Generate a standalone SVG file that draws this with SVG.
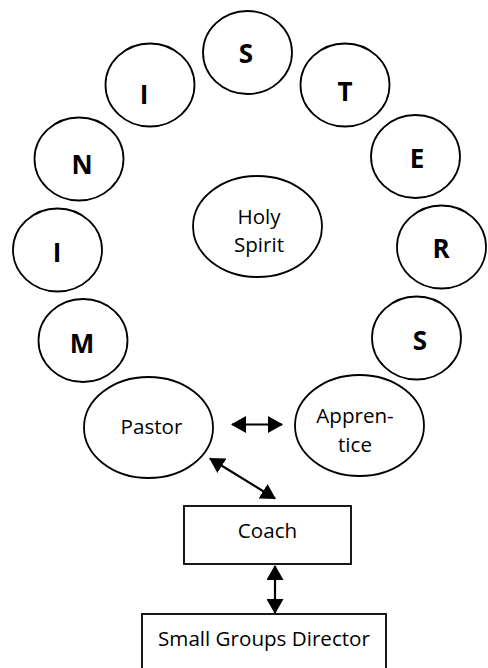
<svg xmlns="http://www.w3.org/2000/svg" width="488" height="668" viewBox="0 0 488 668">
<style>
.n{fill:#fff;stroke:#000;stroke-width:1.8}
.b{font-family:"Open Sans","Liberation Sans",sans-serif;font-weight:bold;font-size:26px;text-anchor:middle;fill:#000}
.t{font-family:"Open Sans","Liberation Sans",sans-serif;font-size:20.6px;text-anchor:middle;fill:#000}
.c{fill:none;stroke:#000;stroke-width:2.2;marker-start:url(#ah);marker-end:url(#ah)}
</style>
<defs>
<marker id="ah" markerUnits="userSpaceOnUse" markerWidth="15" markerHeight="17" refX="14" refY="8.5" orient="auto-start-reverse" viewBox="0 0 15 17">
<path d="M0,0 L15,8.5 L0,17 z" fill="#000"/>
</marker>
</defs>
<rect width="488" height="668" fill="#fff"/>
<g id="node-S1"><ellipse class="n" cx="247.5" cy="52.5" rx="44.5" ry="41.5"/><text class="b" x="246" y="63">S</text></g>
<g id="node-I1"><ellipse class="n" cx="150" cy="85" rx="44.5" ry="41.5"/><text class="b" x="144" y="104">I</text></g>
<g id="node-T"><ellipse class="n" cx="345" cy="85" rx="44.5" ry="41.5"/><text class="b" x="345" y="101">T</text></g>
<g id="node-N"><ellipse class="n" cx="79" cy="159" rx="44.5" ry="41.5"/><text class="b" x="82" y="174">N</text></g>
<g id="node-E"><ellipse class="n" cx="415.5" cy="156.5" rx="44.5" ry="41.5"/><text class="b" x="417" y="168">E</text></g>
<g id="node-I2"><ellipse class="n" cx="57.5" cy="250" rx="44.5" ry="41.5"/><text class="b" x="57" y="262">I</text></g>
<g id="node-R"><ellipse class="n" cx="441.5" cy="247" rx="44.5" ry="41.5"/><text class="b" x="441" y="258">R</text></g>
<g id="node-M"><ellipse class="n" cx="83" cy="340.5" rx="44.5" ry="41.5"/><text class="b" x="82" y="353">M</text></g>
<g id="node-S2"><ellipse class="n" cx="416.5" cy="338" rx="44.5" ry="41.5"/><text class="b" x="420" y="350">S</text></g>
<g id="node-holy-spirit"><ellipse class="n" cx="257.5" cy="226.5" rx="64.5" ry="50.5"/><text class="t" x="259" y="224">Holy</text><text class="t" x="259" y="252">Spirit</text></g>
<g id="node-pastor"><ellipse class="n" cx="148.5" cy="427.5" rx="64.5" ry="50.5"/><text class="t" x="151.5" y="434">Pastor</text></g>
<g id="node-apprentice"><ellipse class="n" cx="359.5" cy="425.5" rx="64.5" ry="50.5"/><text class="t" x="355" y="423">Appren-</text><text class="t" x="355" y="452">tice</text></g>
<g id="node-coach"><rect class="n" x="184" y="506" width="167" height="58"/><text class="t" x="267.5" y="538">Coach</text></g>
<g id="node-director"><rect class="n" x="142" y="614" width="244" height="70"/><text class="t" x="264" y="646">Small Groups Director</text></g>
<g id="connectors">
<line class="c" x1="232" y1="424.5" x2="282" y2="424.5"/>
<line class="c" x1="210" y1="458.5" x2="275" y2="498.5"/>
<line class="c" x1="275" y1="566" x2="275" y2="613"/>
</g>
</svg>
